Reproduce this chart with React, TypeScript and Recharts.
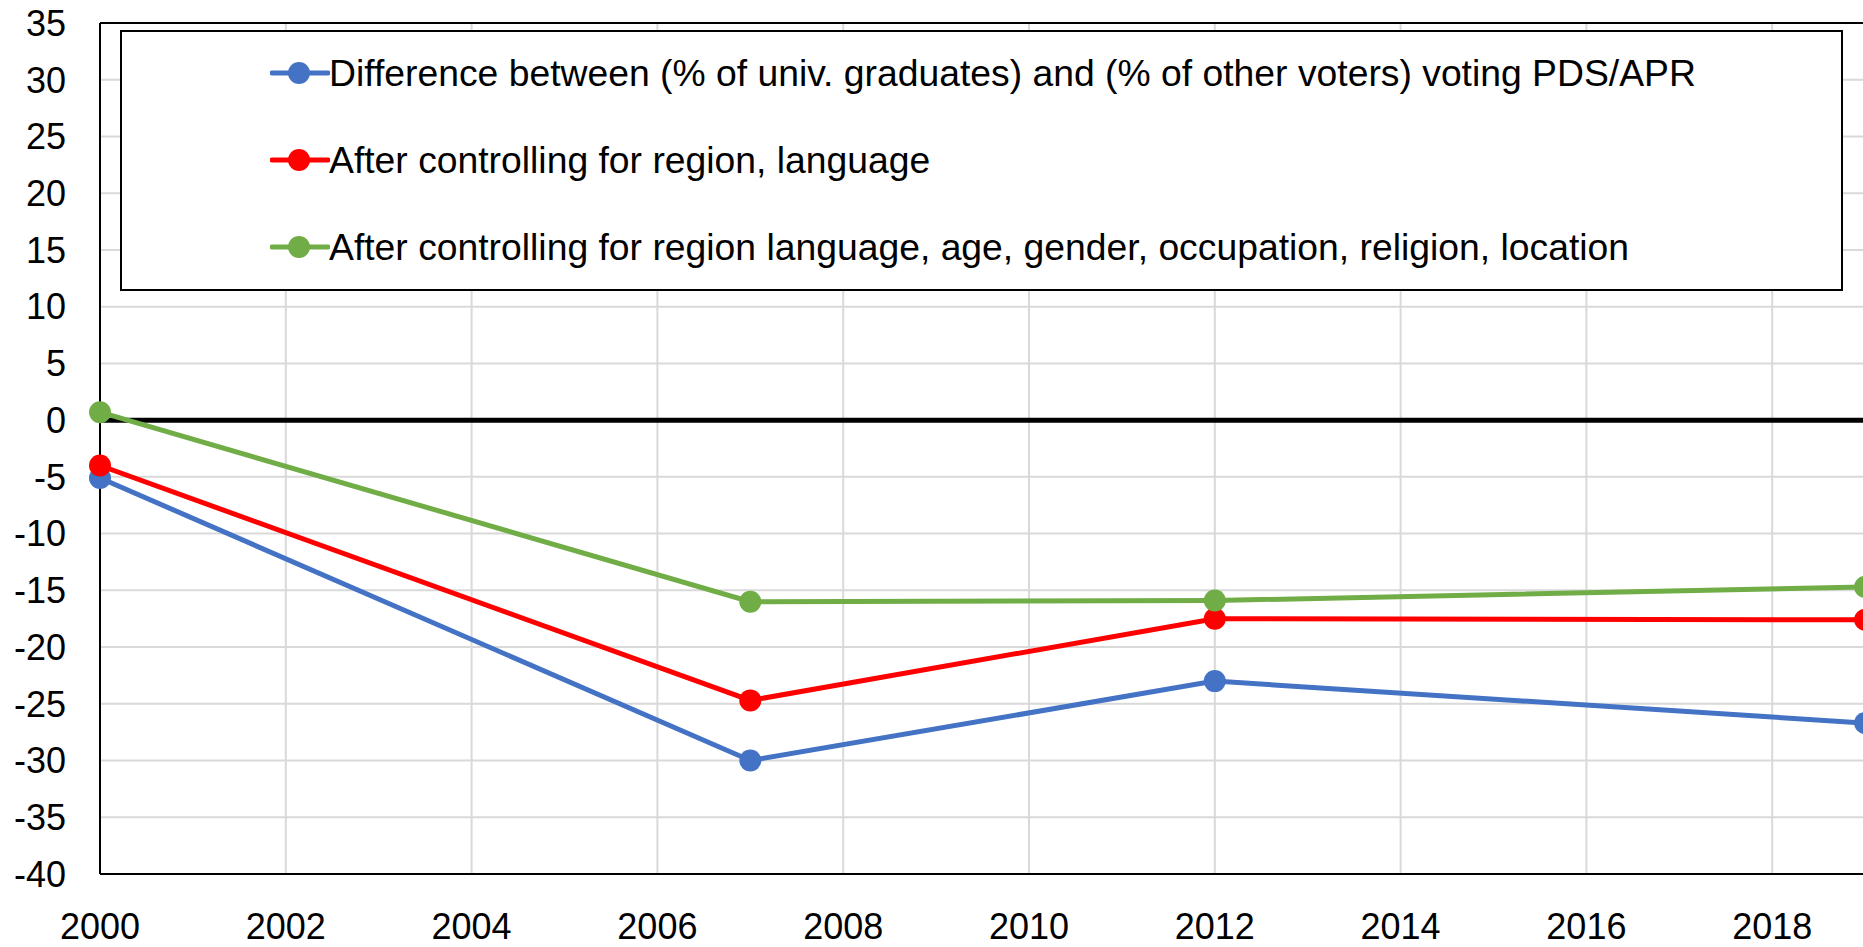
import { LineChart, Line, XAxis, YAxis, CartesianGrid, ReferenceLine, Legend } from "recharts";

const years = [2000, 2007, 2012, 2019];
const rawGap = [-5.1, -30.0, -23.0, -26.7];
const regionLang = [-4.0, -24.7, -17.5, -17.6];
const fullControls = [0.7, -16.0, -15.9, -14.7];

const xTicks = [2000, 2002, 2004, 2006, 2008, 2010, 2012, 2014, 2016, 2018];
const yTicks = [35, 30, 25, 20, 15, 10, 5, 0, -5, -10, -15, -20, -25, -30, -35, -40];

const series = [
  { key: "gap", name: "Difference between (% of univ. graduates) and (% of other voters) voting PDS/APR", color: "#4472C4" },
  { key: "region", name: "After controlling for region, language", color: "#FF0000" },
  { key: "full", name: "After controlling for region language, age, gender, occupation, religion, location", color: "#70AD47" },
];

const data = years.map((year, i) => ({
  year,
  gap: rawGap[i],
  region: regionLang[i],
  full: fullControls[i],
}));

const FONT = "Arial, 'Liberation Sans', sans-serif";

// boite de legende comme dans Excel
const LegendBox = () => (
  <div
    style={{
      boxSizing: "border-box",
      width: 1723,
      height: 261,
      border: "2px solid #000",
      background: "#fff",
      position: "relative",
      fontFamily: FONT,
    }}
  >
    {series.map((s, i) => (
      <div
        key={s.key}
        style={{ position: "absolute", left: 148, top: 41 + i * 87 - 20, height: 40, display: "flex", alignItems: "center" }}
      >
        <svg width={60} height={40}>
          <line x1={2} y1={20} x2={58} y2={20} stroke={s.color} strokeWidth={5} strokeLinecap="round" />
          <circle cx={29} cy={20} r={11} fill={s.color} />
        </svg>
        <span style={{ fontSize: 37.3, color: "#000", marginLeft: -1, whiteSpace: "nowrap" }}>{s.name}</span>
      </div>
    ))}
  </div>
);

export default function App() {
  return (
    <div style={{ position: "absolute", left: 0, top: 0, width: 1863, height: 947, overflow: "hidden", background: "#fff" }}>
      <LineChart
        width={1958}
        height={947}
        data={data}
        margin={{ top: 23, right: 0, bottom: 0, left: 0 }}
        style={{ fontFamily: FONT }}
      >
        <CartesianGrid stroke="#d9d9d9" strokeWidth={2} />
        <XAxis
          dataKey="year"
          type="number"
          domain={[2000, 2020]}
          ticks={xTicks}
          height={73}
          tickSize={0}
          tickMargin={39}
          axisLine={{ stroke: "#000", strokeWidth: 2 }}
          tick={{ fill: "#000", fontSize: 36 }}
          interval={0}
        />
        <YAxis
          domain={[-40, 35]}
          ticks={yTicks}
          width={100}
          tickSize={0}
          tickMargin={34}
          axisLine={{ stroke: "#000", strokeWidth: 2 }}
          tick={{ fill: "#000", fontSize: 36 }}
          interval={0}
        />
        <ReferenceLine y={35} stroke="#000" strokeWidth={2} />
        <ReferenceLine y={0} stroke="#000" strokeWidth={5} />
        {series.map((s) => (
          <Line
            key={s.key}
            dataKey={s.key}
            name={s.name}
            stroke={s.color}
            strokeWidth={5}
            dot={{ r: 11, fill: s.color, stroke: "none" }}
            activeDot={false}
            isAnimationActive={false}
          />
        ))}
        <Legend
          layout="horizontal"
          verticalAlign="middle"
          align="center"
          content={() => <LegendBox />}
          wrapperStyle={{ left: 120, top: 30, width: 1723, height: 261 }}
        />
      </LineChart>
    </div>
  );
}
